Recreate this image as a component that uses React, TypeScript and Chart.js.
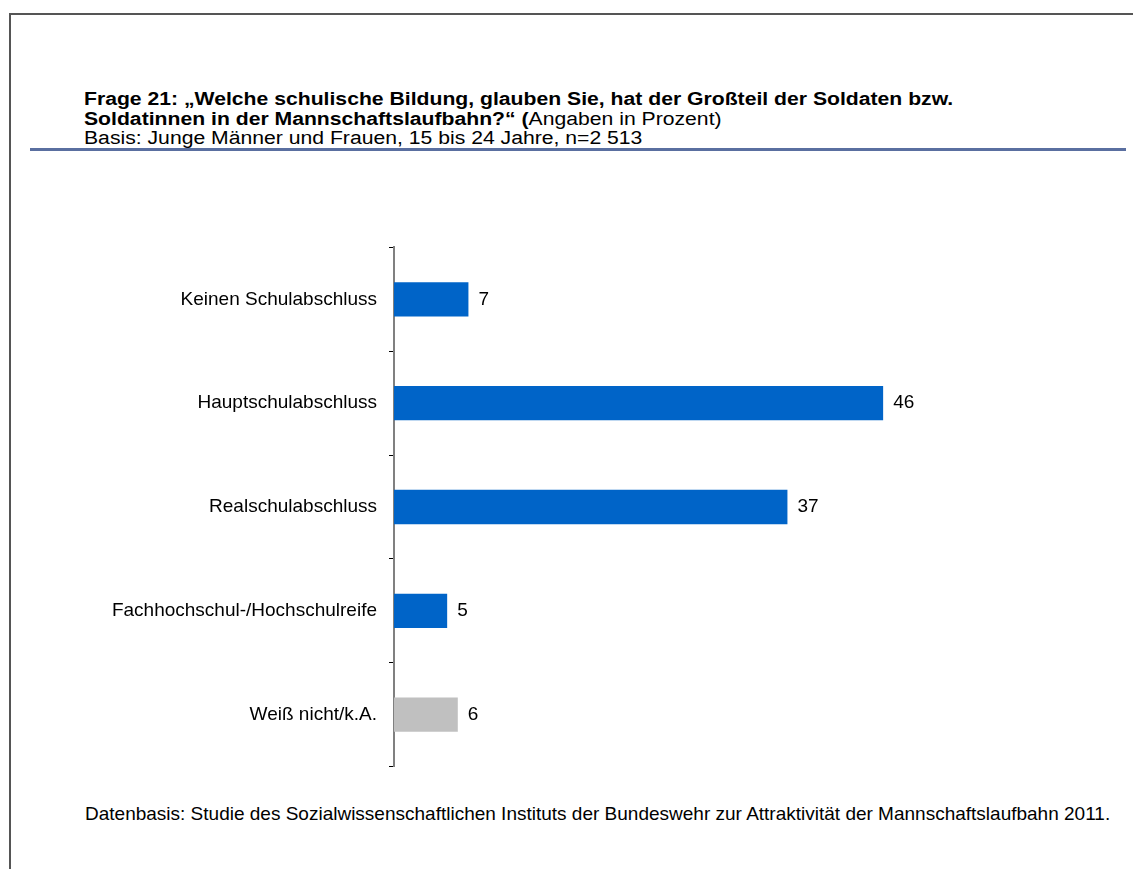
import React, { useEffect, useRef } from "react";
import { Chart, registerables } from "chart.js";

Chart.register(...registerables);

const categories = [
  "Keinen Schulabschluss",
  "Hauptschulabschluss",
  "Realschulabschluss",
  "Fachhochschul-/Hochschulreife",
  "Weiß nicht/k.A.",
];
const values = [7, 46, 37, 5, 6];
const barColors = ["#0064c8", "#0064c8", "#0064c8", "#0064c8", "#c0c0c0"];

const FONT = "'Liberation Sans', Arial, Helvetica, sans-serif";

const valueLabelPlugin = {
  id: "valueLabels",
  afterDatasetsDraw(chart: any) {
    const ctx = chart.ctx;
    const meta = chart.getDatasetMeta(0);
    ctx.save();
    ctx.font = `19px ${FONT}`;
    ctx.fillStyle = "#000";
    ctx.textAlign = "left";
    ctx.textBaseline = "middle";
    meta.data.forEach((bar: any, i: number) => {
      ctx.fillText(String(values[i]), bar.x + 10, bar.y);
    });
    ctx.restore();
  },
};

export default function App() {
  const canvasRef = useRef<HTMLCanvasElement | null>(null);

  useEffect(() => {
    if (!canvasRef.current) return;
    const chart = new Chart(canvasRef.current, {
      type: "bar",
      data: {
        labels: categories,
        datasets: [
          {
            data: values,
            backgroundColor: barColors,
            borderWidth: 0,
            categoryPercentage: 1,
            barPercentage: 0.33,
          },
        ],
      },
      options: {
        indexAxis: "y",
        animation: false,
        responsive: false,
        maintainAspectRatio: false,
        layout: { padding: { top: 0, bottom: 0, left: 0, right: 101 } },
        plugins: {
          legend: { display: false },
          tooltip: { enabled: false },
          title: { display: false },
        },
        scales: {
          x: { display: false, min: 0, max: 60 },
          y: {
            afterFit(scale: any) {
              scale.width = 394;
            },
            grid: {
              drawOnChartArea: false,
              drawTicks: true,
              tickLength: 5,
              offset: true,
              color: "#000",
              lineWidth: 1,
            },
            border: { display: true, color: "#808080", width: 2 },
            ticks: {
              color: "#000",
              padding: 12,
              font: { family: FONT, size: 19 },
            },
          },
        },
      },
      plugins: [valueLabelPlugin],
    });
    return () => chart.destroy();
  }, []);

  const abs = (s: React.CSSProperties): React.CSSProperties => ({ position: "absolute", ...s });

  return (
    <div style={{ fontFamily: FONT, color: "#000" }}>
      <div style={abs({ left: 9, top: 13, width: 1124, height: 1.5, background: "#555" })} />
      <div style={abs({ left: 9, top: 13, width: 1.5, height: 856, background: "#555" })} />
      <div
        style={abs({
          left: 84,
          top: 90,
          fontSize: 18,
          lineHeight: "19.5px",
          whiteSpace: "nowrap",
          transform: "scaleX(1.176)",
          transformOrigin: "0 0",
        })}
      >
        <div style={{ fontWeight: "bold" }}>
          Frage 21: „Welche schulische Bildung, glauben Sie, hat der Großteil der Soldaten bzw.
        </div>
        <div>
          <span style={{ fontWeight: "bold" }}>Soldatinnen in der Mannschaftslaufbahn?“ (</span>
          Angaben in Prozent)
        </div>
        <div>Basis: Junge Männer und Frauen, 15 bis 24 Jahre, n=2 513</div>
      </div>
      <div style={abs({ left: 30, top: 148, width: 1096, height: 2.5, background: "#5a6fa0" })} />
      <canvas ref={canvasRef} width={1133} height={566} style={abs({ left: 0, top: 224, width: 1133, height: 566 })} />
      <div style={abs({ left: 85, top: 804, fontSize: 19, lineHeight: "20px", whiteSpace: "nowrap" })}>
        Datenbasis: Studie des Sozialwissenschaftlichen Instituts der Bundeswehr zur Attraktivität der Mannschaftslaufbahn 2011.
      </div>
    </div>
  );
}
